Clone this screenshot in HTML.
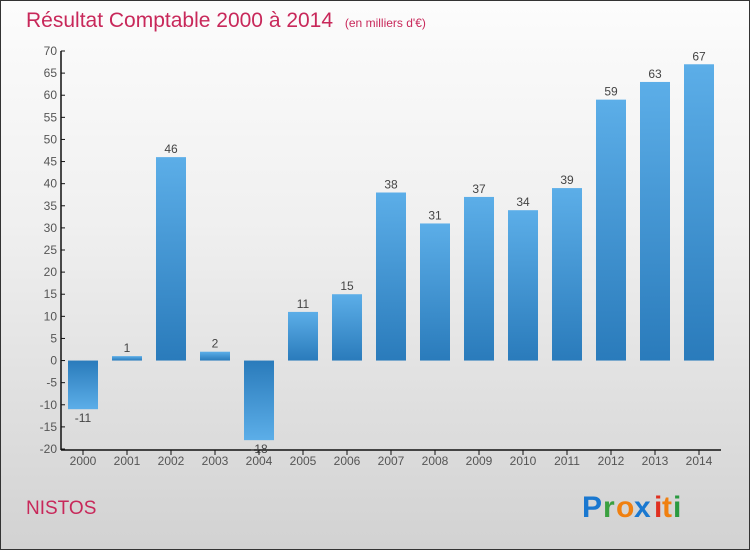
<!DOCTYPE html>
<html><head><meta charset="utf-8"><style>
body{margin:0;width:750px;height:550px;overflow:hidden}
#wrap{position:absolute;left:0;top:0;width:748px;height:548px;border:1px solid #333;background:linear-gradient(#fcfcfc,#f0f0f0 40%,#d2d2d2)}
svg{position:absolute;left:0;top:0}
text{font-family:"Liberation Sans",sans-serif}
</style></head><body>
<div id="wrap"></div>
<svg id="chart" width="750" height="550">
<defs>
<linearGradient id="gp" x1="0" y1="0" x2="0" y2="1"><stop offset="0" stop-color="#5caee8"/><stop offset="1" stop-color="#2a7bbb"/></linearGradient>
<linearGradient id="gn" x1="0" y1="0" x2="0" y2="1"><stop offset="0" stop-color="#2a7bbb"/><stop offset="1" stop-color="#5caee8"/></linearGradient>
</defs>
<text x="26" y="27" font-size="21" fill="#c8285a">Résultat Comptable 2000 à 2014 <tspan font-size="12" dx="6">(en milliers d'€)</tspan></text>
<text x="26" y="514" font-size="19" fill="#c8285a">NISTOS</text>
<g font-size="30" font-weight="bold" font-family="Liberation Sans, sans-serif">
<text x="582" y="517" fill="#1a78d0">P</text><text x="603" y="517" fill="#3aa040">r</text><text x="616" y="517" fill="#f08010">o</text><text x="634" y="517" fill="#1a78d0">x</text><text x="654" y="517" fill="#e03020">i</text><text x="662" y="517" fill="#f08010">t</text><text x="673" y="517" fill="#2a9a40">i</text>
</g>
<g id="plot"></g>
</svg>
<script>
const categories=["2000","2001","2002","2003","2004","2005","2006","2007","2008","2009","2010","2011","2012","2013","2014"];
const values=[-11,1,46,2,-18,11,15,38,31,37,34,39,59,63,67];
const yTicks=[-20,-15,-10,-5,0,5,10,15,20,25,30,35,40,45,50,55,60,65,70];
const NS="http://www.w3.org/2000/svg";
const g=document.getElementById('plot');
const yMin=-20,yMax=70,top0=51,bot=449,left=61,right=721;
const y=v=>bot-(v-yMin)/(yMax-yMin)*(bot-top0);
const step=(right-left)/categories.length;
const x=i=>left+step*(i+0.5);
function el(t,a){const e=document.createElementNS(NS,t);for(const k in a)e.setAttribute(k,a[k]);g.appendChild(e);return e;}
const ya=el('line',{x1:left,y1:top0,x2:left,y2:bot+1,stroke:'#111','stroke-width':1.5});


const xa=el('line',{x1:left,y1:bot+1,x2:right,y2:bot+1,stroke:'#111','stroke-width':1.5});


yTicks.forEach(v=>{
  el('line',{x1:left,y1:y(v),x2:left+4,y2:y(v),stroke:'#111'});
  const t=el('text',{x:left-4,y:y(v)+4,'text-anchor':'end','font-size':12,fill:'#555'});
  t.textContent=v;
  
  
});
categories.forEach((c,i)=>{
  const cx=x(i),v=values[i],bw=30;
  el('line',{x1:cx,y1:bot+1,x2:cx,y2:bot+6,stroke:'#111'});
  const t=el('text',{x:cx,y:bot+16,'text-anchor':'middle','font-size':12,fill:'#555'});
  t.textContent=c;
  
  
  const y1=Math.min(y(v),y(0)),h=Math.abs(y(v)-y(0));
  const r=el('rect',{x:cx-bw/2,y:y1,width:bw,height:Math.max(h,1),fill:v>=0?'url(#gp)':'url(#gn)'});
  
  
  const l=el('text',{x:cx,y:v>=0?y(v)-4:y(v)+13,'text-anchor':'middle','font-size':12,fill:'#444'});
  l.textContent=v;
  
  
});
</script>
</body></html>
